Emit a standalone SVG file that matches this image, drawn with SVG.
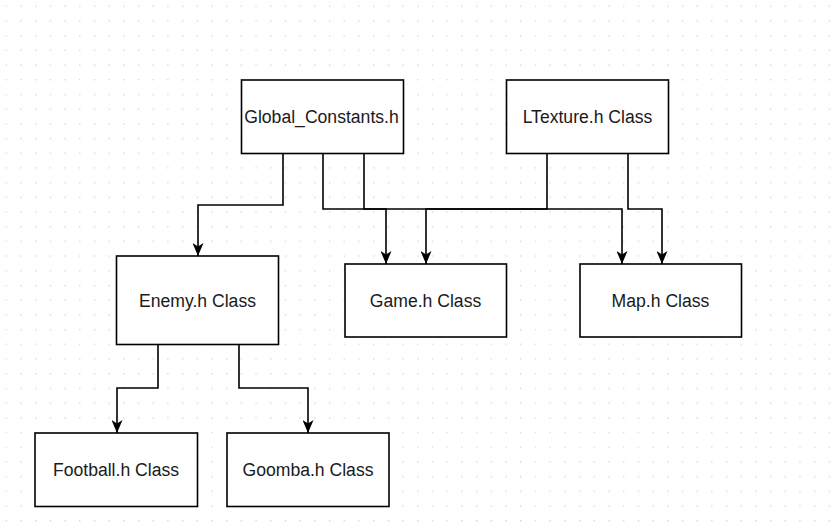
<svg xmlns="http://www.w3.org/2000/svg" width="836" height="532" viewBox="0 0 836 532">
  <defs>
    <pattern id="grid" x="5.5" y="5.5" width="14.7" height="14.7" patternUnits="userSpaceOnUse">
      <rect x="0" y="0" width="1.4" height="1.4" fill="#d8d8d8"/>
    </pattern>
    <marker id="arr" viewBox="0 0 13 11" refX="13" refY="5.5" markerWidth="13" markerHeight="11" markerUnits="userSpaceOnUse" orient="auto">
      <path d="M0,0 L13,5.5 L0,11 L3.5,5.5 Z" fill="#000"/>
    </marker>
    <style>
      .box { fill: #fff; stroke: #000; stroke-width: 1.6; }
      .lbl { font-family: "Liberation Sans", Arial, Helvetica, sans-serif; font-size: 17.6px; fill: #1a1a1a; text-anchor: middle; dominant-baseline: central; }
      .edge { fill: none; stroke: #000; stroke-width: 1.6; marker-end: url(#arr); }
    </style>
  </defs>
  <rect width="836" height="532" fill="#fff"/>
  <rect width="836" height="532" fill="url(#grid)"/>

  <g id="connectors">
    <path class="edge" d="M283,153.5 V205 H198 V256"/>
    <path class="edge" d="M323,153.5 V209 H386 V264"/>
    <path class="edge" d="M364,153.5 V209 H622 V264"/>
    <path class="edge" d="M547,153.5 V209 H426 V264"/>
    <path class="edge" d="M628,153.5 V209 H662 V264"/>
    <path class="edge" d="M158,344.5 V388 H117 V433"/>
    <path class="edge" d="M239,344.5 V388 H308 V433"/>
  </g>

  <g id="global_constants">
    <rect class="box" x="241.5" y="80" width="162" height="73.5"/>
    <text class="lbl" x="321.5" y="117">Global_Constants.h</text>
  </g>
  <g id="ltexture">
    <rect class="box" x="506.5" y="80" width="162" height="73.5"/>
    <text class="lbl" x="587.5" y="117">LTexture.h Class</text>
  </g>
  <g id="enemy">
    <rect class="box" x="116.5" y="256" width="162" height="88.5"/>
    <text class="lbl" x="197.5" y="300.5">Enemy.h Class</text>
  </g>
  <g id="game">
    <rect class="box" x="345" y="264" width="161.5" height="73"/>
    <text class="lbl" x="425.5" y="300.5">Game.h Class</text>
  </g>
  <g id="map">
    <rect class="box" x="580" y="264" width="161.5" height="73"/>
    <text class="lbl" x="660.5" y="300.5">Map.h Class</text>
  </g>
  <g id="football">
    <rect class="box" x="35" y="433" width="162.5" height="73.5"/>
    <text class="lbl" x="116" y="470">Football.h Class</text>
  </g>
  <g id="goomba">
    <rect class="box" x="227" y="433" width="162" height="73.5"/>
    <text class="lbl" x="308" y="470">Goomba.h Class</text>
  </g>
</svg>
